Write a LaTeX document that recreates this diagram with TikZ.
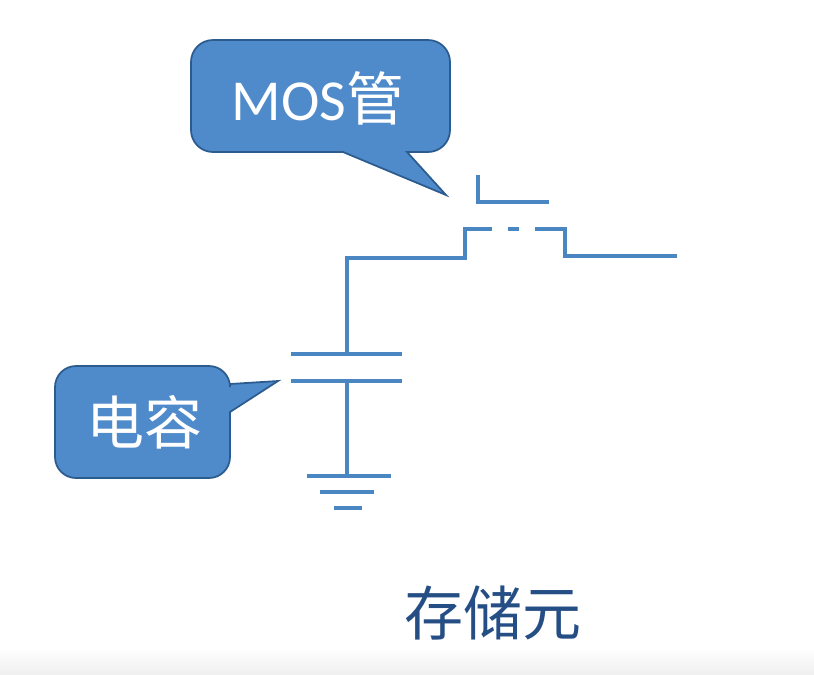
\documentclass[tikz,border=0pt]{standalone}
\usepackage{fontspec}
\setmainfont{Carlito}
\newfontfamily\cjk{Noto Sans CJK SC}
\definecolor{wireblue}{HTML}{4A86C2}
\definecolor{bubblefill}{HTML}{4F8BCB}
\definecolor{bubbleline}{HTML}{2C5C8E}
\definecolor{titleblue}{HTML}{254E85}
\tikzset{
    wire/.style={line width=1.35pt, wireblue},
    bubble/.style={fill=bubblefill, draw=bubbleline, line width=0.5pt},
    bubbletext/.style={text=white, inner sep=0pt, font=\fontsize{16.5}{18}\selectfont}
}
\begin{document}
\begin{tikzpicture}
    \useasboundingbox (0,0) rectangle (8.14,6.74);

    % Faint band along the bottom edge
    \shade[top color=white, bottom color=black!6] (0,0) rectangle (8.14,0.26);

    % Callout of the transistor
    \coordinate (TipM) at (4.46,4.79);
    \draw[bubble, rounded corners=0.22cm] (4.07,5.22) -- (4.50,5.22) -- (4.50,6.34) -- (1.91,6.34)
        -- (1.91,5.22) [sharp corners] -- (3.43,5.22) -- (TipM) -- cycle;
    \node[bubbletext] (LabelM) at (3.18,5.76) {MOS{\cjk 管}};

    % Callout of the capacitor
    \coordinate (TipC) at (2.78,2.93);
    \draw[bubble, rounded corners=0.21cm] (2.30,2.90) -- (2.30,3.08) -- (0.55,3.08)
        -- (0.55,1.96) -- (2.30,1.96) [sharp corners] -- (2.30,2.62) -- (TipC) -- cycle;
    \node[bubbletext] (LabelC) at (1.44,2.52) {\cjk 电容};

    % Gate of the transistor
    \coordinate (G1) at (4.78,4.99);
    \coordinate (G2) at (4.78,4.72);
    \coordinate (G3) at (5.49,4.72);
    \draw[wire] (G1)--(G2)--(G3);

    % Wire from the upper plate to the channel
    \coordinate (P) at (3.47,3.20);
    \coordinate (W1) at (3.47,4.16);
    \coordinate (W2) at (4.65,4.16);
    \coordinate (W3) at (4.65,4.45);
    \coordinate (W4) at (4.92,4.45);
    \draw[wire] (P)--(W1)--(W2)--(W3)--(W4);

    % Middle dash of the channel
    \coordinate (D1) at (5.08,4.45);
    \coordinate (D2) at (5.19,4.45);
    \draw[wire] (D1)--(D2);

    % Channel on to the free end
    \coordinate (R1) at (5.35,4.45);
    \coordinate (R2) at (5.65,4.45);
    \coordinate (R3) at (5.65,4.18);
    \coordinate (R4) at (6.77,4.18);
    \draw[wire] (R1)--(R2)--(R3)--(R4);

    % Capacitor plates
    \coordinate (A1) at (2.91,3.20);
    \coordinate (A2) at (4.02,3.20);
    \coordinate (B1) at (2.91,2.93);
    \coordinate (B2) at (4.02,2.93);
    \coordinate (Q) at (3.47,2.93);
    \draw[wire] (A1)--(A2);
    \draw[wire] (B1)--(B2);

    % Wire to ground and the three bars
    \coordinate (E) at (3.47,1.98);
    \draw[wire] (Q)--(E);
    \coordinate (E1) at (3.07,1.98);
    \coordinate (E2) at (3.91,1.98);
    \coordinate (F1) at (3.20,1.82);
    \coordinate (F2) at (3.74,1.82);
    \coordinate (H1) at (3.34,1.66);
    \coordinate (H2) at (3.62,1.66);
    \draw[wire] (E1)--(E2);
    \draw[wire] (F1)--(F2);
    \draw[wire] (H1)--(H2);

    % Caption
    \node[text=titleblue, inner sep=0pt, font=\cjk\fontsize{16.8}{20}\selectfont] (Title) at (4.93,0.61) {存储元};
\end{tikzpicture}
\end{document}
